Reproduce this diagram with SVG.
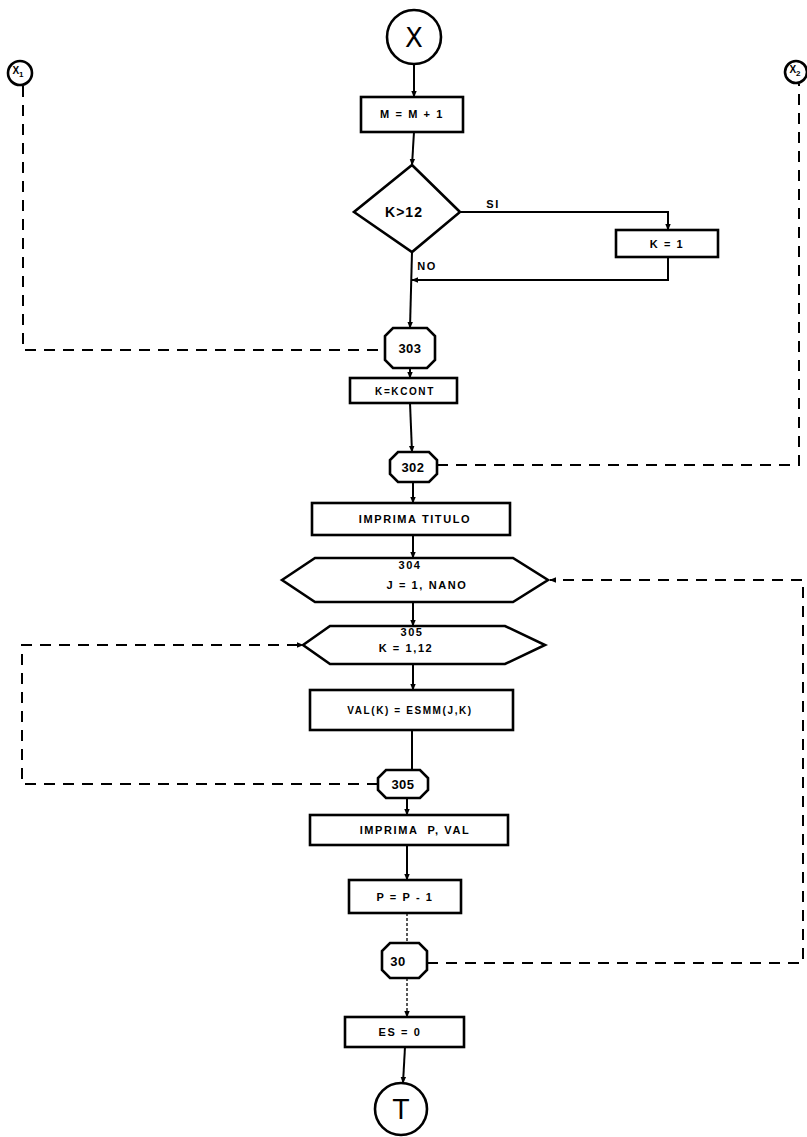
<svg xmlns="http://www.w3.org/2000/svg" width="807" height="1137" viewBox="0 0 807 1137">
<style>
.s{fill:#fff;stroke:#000;stroke-width:2.6}
.c{fill:none;stroke:#000;stroke-width:2}
.d{fill:none;stroke:#000;stroke-width:2;stroke-dasharray:11 8}
.f{fill:none;stroke:#000;stroke-width:1.3;stroke-dasharray:3 2}
.t{font-family:"Liberation Sans",Arial,sans-serif;font-weight:bold;font-size:11px;letter-spacing:1.6px;text-anchor:middle;dominant-baseline:central;fill:#000}
.big{font-family:"DejaVu Sans","Liberation Sans",sans-serif;font-size:26px;text-anchor:middle;dominant-baseline:central;fill:#000}
</style>
<defs>
<marker id="a" viewBox="0 0 10 10" refX="9" refY="5" markerWidth="7" markerHeight="7" orient="auto" markerUnits="userSpaceOnUse">
<path d="M0,1 L10,5 L0,9 z" fill="#000"/>
</marker>
</defs>
<rect width="807" height="1137" fill="#fff"/>
<g id="connectors">
<path class="c" d="M414,64 V97" marker-end="url(#a)"/>
<path class="c" d="M414,132 L412,165" marker-end="url(#a)"/>
<path class="c" d="M460,212 H668 V230" marker-end="url(#a)"/>
<path class="c" d="M668,257 V280 H412" marker-end="url(#a)"/>
<path class="c" d="M412,252 L410,328" marker-end="url(#a)"/>
<path class="d" d="M23,86 V350 H385"/>
<path class="c" d="M410,368 V378" marker-end="url(#a)"/>
<path class="c" d="M410,403 L412,452" marker-end="url(#a)"/>
<path class="d" d="M437,465 H799 V84"/>
<path class="c" d="M413,482 V503" marker-end="url(#a)"/>
<path class="c" d="M413,535 V558" marker-end="url(#a)"/>
<path class="c" d="M413,602 V626" marker-end="url(#a)"/>
<path class="c" d="M413,664 V690" marker-end="url(#a)"/>
<path class="c" d="M412,730 V770"/>
<path class="d" d="M378,784 H22 V645 H303" marker-end="url(#a)"/>
<path class="c" d="M407,797 V815" marker-end="url(#a)"/>
<path class="c" d="M407,845 V880" marker-end="url(#a)"/>
<path class="f" d="M407,913 V943"/>
<path class="d" d="M427,963 H803 V580 H550" marker-end="url(#a)"/>
<path class="f" d="M407,978 V1017" marker-end="url(#a)"/>
<path class="c" d="M405,1047 L403,1083" marker-end="url(#a)"/>
</g>
<g id="start_X"><circle class="s" cx="414" cy="37" r="27"/><text class="big" x="414" y="38">X</text></g>
<g id="conn_X1"><circle class="s" cx="20" cy="73" r="12"/><text class="t" x="18" y="70" style="font-size:10px;letter-spacing:0">X<tspan dy="4" font-size="8">1</tspan></text></g>
<g id="conn_X2"><circle class="s" cx="796" cy="72" r="11"/><text class="t" x="795" y="69" style="font-size:10px;letter-spacing:0">X<tspan dy="4" font-size="8">2</tspan></text></g>
<g id="m_inc"><rect class="s" x="361" y="97" width="102" height="35"/><text class="t" x="412" y="114">M = M + 1</text></g>
<g id="dec_k12"><path class="s" d="M412,165 L460,212 L412,252 L354,212 z"/><text class="t" x="404" y="212" style="font-size:14px;letter-spacing:1px">K&gt;12</text></g>
<text class="t" x="493" y="204">SI</text>
<text class="t" x="427" y="266">NO</text>
<g id="k_one"><rect class="s" x="616" y="230" width="102" height="27"/><text class="t" x="667" y="244">K = 1</text></g>
<g id="c303"><path class="s" d="M393,328 H427 L435,336 V360 L427,368 H393 L385,360 V336 z"/><text class="t" x="410" y="348" style="font-size:13px;letter-spacing:0.5px">303</text></g>
<g id="k_cont"><rect class="s" x="350" y="378" width="107" height="25"/><text class="t" x="405" y="391" style="font-size:10px">K=KCONT</text></g>
<g id="c302"><path class="s" d="M398,452 H429 L437,460 V474 L429,482 H398 L390,474 V460 z"/><text class="t" x="413" y="467" style="font-size:13px;letter-spacing:0.5px">302</text></g>
<g id="titulo"><rect class="s" x="312" y="503" width="198" height="32"/><text class="t" x="415" y="519">IMPRIMA TITULO</text></g>
<g id="loop304"><path class="s" d="M282,580 L315,558 H513 L548,580 L513,602 H315 z"/><text class="t" x="410" y="565">304</text><text class="t" x="427" y="585">J = 1, NANO</text></g>
<g id="loop305"><path class="s" d="M303,645 L330,626 H505 L545,645 L505,664 H330 z"/><text class="t" x="412" y="632">305</text><text class="t" x="406" y="648">K = 1,12</text></g>
<g id="val"><rect class="s" x="310" y="690" width="203" height="40"/><text class="t" x="410" y="710" style="font-size:10px">VAL(K) = ESMM(J,K)</text></g>
<g id="c305"><path class="s" d="M386,770 H420 L428,778 V790 L420,798 H386 L378,790 V778 z"/><text class="t" x="403" y="784" style="font-size:13px;letter-spacing:0.5px">305</text></g>
<g id="print_pval"><rect class="s" x="310" y="815" width="198" height="30"/><text class="t" x="415" y="830" xml:space="preserve">IMPRIMA  P, VAL</text></g>
<g id="p_dec"><rect class="s" x="349" y="880" width="112" height="33"/><text class="t" x="405" y="897">P = P - 1</text></g>
<g id="c30"><path class="s" d="M390,943 H419 L427,951 V970 L419,978 H390 L382,970 V951 z"/><text class="t" x="398" y="961" style="font-size:13px;letter-spacing:0.5px">30</text></g>
<g id="es_zero"><rect class="s" x="345" y="1017" width="119" height="30"/><text class="t" x="400" y="1032">ES = 0</text></g>
<g id="end_T"><circle class="s" cx="401" cy="1109" r="26"/><text class="big" x="401" y="1110">T</text></g>
</svg>
